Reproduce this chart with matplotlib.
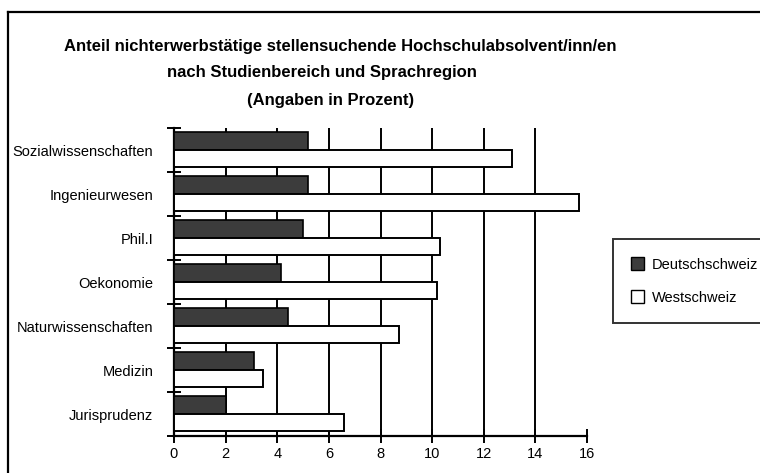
import numpy as np
import matplotlib
matplotlib.use("Agg")
import matplotlib.pyplot as plt
from matplotlib.lines import Line2D
from matplotlib.patches import Patch

plt.rcParams['font.family'] = ['Liberation Sans', 'DejaVu Sans']

# data (percent)
bereiche = ['Sozialwissenschaften', 'Ingenieurwesen', 'Phil.I', 'Oekonomie',
            'Naturwissenschaften', 'Medizin', 'Jurisprudenz']
deutschschweiz = [5.2, 5.2, 5.0, 4.15, 4.4, 3.1, 2.0]
westschweiz = [13.1, 15.7, 10.3, 10.2, 8.7, 3.45, 6.6]
x_ticks = [0, 2, 4, 6, 8, 10, 12, 14, 16]

fig = plt.figure(figsize=(7.6, 4.73), dpi=100)
ax = fig.add_axes([174 / 760, 1 - 436 / 473, (587 - 174) / 760, (436 - 128) / 473])

y = np.arange(len(bereiche))
ax.barh(y - 0.205, deutschschweiz, height=0.39, color='#3c3c3c',
        edgecolor='black', linewidth=1.2, zorder=3)
ax.barh(y + 0.185, westschweiz, height=0.39, color='white',
        edgecolor='black', linewidth=1.4, zorder=3)

# vertical grid lines (not at 16)
for xv in x_ticks[1:-1]:
    ax.axvline(xv, color='black', linewidth=1.4, zorder=1)

ax.set_xlim(0, 16)
ax.set_ylim(len(bereiche) - 0.5, -0.5)
ax.set_xticks(x_ticks)
ax.set_xticklabels([str(v) for v in x_ticks], fontsize=10.5)
ax.tick_params(axis='x', direction='inout', length=10, width=1.4, pad=3)

# group boundaries as major ticks, category names as minor ticks
ax.set_yticks(np.arange(-0.5, len(bereiche), 1.0))
ax.set_yticklabels([])
ax.set_yticks(y, minor=True)
ax.set_yticklabels(bereiche, minor=True, fontsize=10.5)
ax.tick_params(axis='y', which='major', direction='inout', length=10, width=1.4)
ax.tick_params(axis='y', which='minor', length=0, pad=15)

for side in ['top', 'right']:
    ax.spines[side].set_visible(False)
for side in ['left', 'bottom']:
    ax.spines[side].set_linewidth(1.6)

fig.text(340 / 760, 1 - 46 / 473,
         'Anteil nichterwerbstätige stellensuchende Hochschulabsolvent/inn/en',
         ha='center', va='center', fontsize=12, fontweight='bold')
fig.text(322 / 760, 1 - 73 / 473, 'nach Studienbereich und Sprachregion',
         ha='center', va='center', fontsize=12, fontweight='bold')
fig.text(331 / 760, 1 - 100 / 473, '(Angaben in Prozent)',
         ha='center', va='center', fontsize=12, fontweight='bold')

handles = [Patch(facecolor='#3c3c3c', edgecolor='black', label='Deutschschweiz'),
           Patch(facecolor='white', edgecolor='black', label='Westschweiz')]
leg = fig.legend(handles=handles, loc='center left',
                 bbox_to_anchor=(613 / 760, 1 - 322 / 473, 190 / 760, 82 / 473),
                 mode='expand', fontsize=10.5, frameon=True, fancybox=False,
                 handlelength=0.9, handleheight=0.9, handletextpad=0.5,
                 labelspacing=1.3, borderpad=1.25, borderaxespad=0)
leg.get_frame().set_edgecolor('black')
leg.get_frame().set_linewidth(1.4)

# outer frame of the scanned page
fig.add_artist(Line2D([8 / 760, 1.0], [1 - 12 / 473, 1 - 12 / 473],
                      transform=fig.transFigure, color='black', linewidth=1.6))
fig.add_artist(Line2D([8 / 760, 8 / 760], [0.0, 1 - 12 / 473],
                      transform=fig.transFigure, color='black', linewidth=1.6))

fig.savefig('out.png', dpi=100)
